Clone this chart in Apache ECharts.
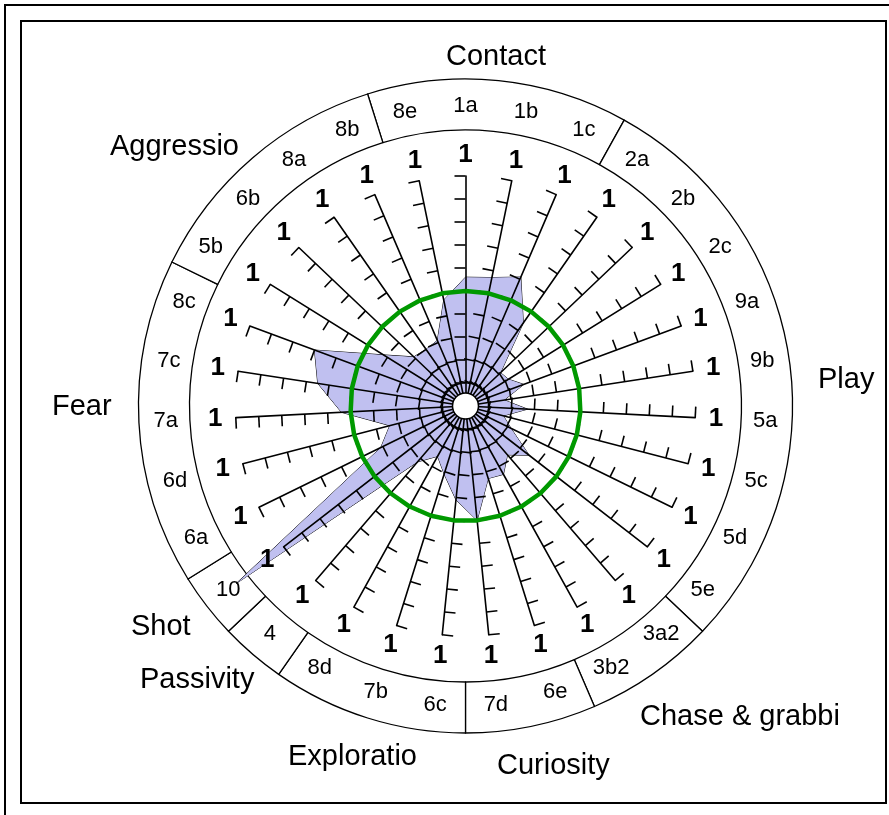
<!DOCTYPE html>
<html><head><meta charset="utf-8">
<script src="https://cdn.jsdelivr.net/npm/echarts@6/dist/echarts.min.js"></script>
<style>html,body{margin:0;padding:0;background:#fff}#c{width:889px;height:815px}</style>
</head><body><div id="c"></div>
<script>
// ---- data (clockwise from top) ----
const categories = ['1a','1b','1c','2a','2b','2c','9a','9b','5a','5c','5d','5e','3a2','3b2','6e','7d','6c','7b','8d','4','10','6a','6d','7a','7c','8c','5b','6b','8a','8b','8e'];
const values     = [0.56,0.57,0.61,0.44,0.21,0.22,0.27,0.17,0.27,0.17,0.22,0.35,0.28,0.34,0.33,0.50,0.41,0.31,0.25,0.32,1.26,0.41,0.34,0.54,0.65,0.70,0.42,0.31,0.30,0.31,0.47];
const referenceValues = [0.5,0.5,0.5,0.5,0.5,0.5,0.5,0.5,0.5,0.5,0.5,0.5,0.5,0.5,0.5,0.5,0.5,0.5,0.5,0.5,0.5,0.5,0.5,0.5,0.5,0.5,0.5,0.5,0.5,0.5,0.5];
const groupNames = ['Contact','Play','Chase & grabbing','Curiosity','Exploration','Passivity','Shot','Fear','Aggression'];
const groupSizes = [4,9,2,2,3,1,1,5,4];
const axisMin = 0, axisMax = 1, axisEndLabel = '1';

// ---- layout ----
const N = categories.length;
const CX = 465.5, CY = 406, R = 230;
const FONT = '"Liberation Sans", Arial, sans-serif';

// radar indicators run counter-clockwise in ECharts -> reorder
const ccwOrder = [0];
for (let k = N - 1; k >= 1; k--) ccwOrder.push(k);
const indicator = ccwOrder.map(i => ({ name: categories[i], min: axisMin, max: axisMax }));
const seriesValues = ccwOrder.map(i => values[i]);
const refValues = ccwOrder.map(i => referenceValues[i]);

const groupLabelPos = [
  { x: 496, y: 57, align: 'center' },
  { x: 818, y: 380, align: 'left' },
  { x: 640, y: 717, align: 'left', width: 218 },
  { x: 497, y: 766, align: 'left' },
  { x: 288, y: 757, align: 'left', width: 141 },
  { x: 140, y: 680, align: 'left' },
  { x: 131, y: 627, align: 'left' },
  { x: 52,  y: 407, align: 'left' },
  { x: 110, y: 147, align: 'left', width: 141 }
];

const chart = echarts.init(document.getElementById('c'), null, { renderer: 'canvas' });

const graphic = [
  { type: 'rect', z: 100, silent: true, shape: { x: 5, y: 5, width: 1000, height: 1000 }, style: { fill: 'none', stroke: '#000', lineWidth: 2 } },
  { type: 'rect', z: 100, silent: true, shape: { x: 21, y: 21, width: 865, height: 782 }, style: { fill: 'none', stroke: '#000', lineWidth: 2 } },
  { type: 'circle', z: 100, silent: true, shape: { cx: CX, cy: CY, r: 13 }, style: { fill: '#fff', stroke: '#000', lineWidth: 1.5 } }
];
groupNames.forEach((name, i) => {
  const p = groupLabelPos[i];
  const st = { text: name, x: 0, y: 0, fill: '#000', font: '29px ' + FONT, align: p.align, verticalAlign: 'middle' };
  if (p.width) { st.width = p.width; st.overflow = 'truncate'; st.ellipsis = ''; }
  graphic.push({ type: 'text', z: 100, silent: true, x: p.x, y: p.y, style: st });
});

const option = {
  backgroundColor: '#fff',
  animation: false,
  radar: {
    center: [CX, CY], radius: R, startAngle: 90, splitNumber: 10, z: 3,
    indicator: indicator,
    axisName: { show: false },
    splitLine: { show: false },
    splitArea: { show: false },
    axisLine: { lineStyle: { color: '#000', width: 1.6 } },
    axisTick: { show: true, length: 11, lineStyle: { color: '#000', width: 1.6 } },
    axisLabel: { show: false }
  },
  polar: { center: [CX, CY], radius: R },
  angleAxis: { type: 'value', min: 0, max: N, startAngle: 90, clockwise: true, show: false },
  radiusAxis: { type: 'value', min: axisMin, max: axisMax, show: false },
  series: [
    {
      type: 'pie', center: [CX, CY], radius: [276, 327], z: 0,
      startAngle: 90 + 1.5 * 360 / N, clockwise: true, silent: true,
      label: { show: false }, labelLine: { show: false },
      itemStyle: { color: '#fff', borderColor: '#000', borderWidth: 1.3 },
      data: groupNames.map((n, i) => ({ name: n, value: groupSizes[i] }))
    },
    {
      type: 'radar', radarIndex: 0, z: 1, symbol: 'none', silent: true,
      lineStyle: { color: '#000', width: 1 },
      areaStyle: { color: '#C0C0F0', opacity: 1 },
      data: [{ name: 'values', value: seriesValues }]
    },
    {
      type: 'radar', radarIndex: 0, z: 5, symbol: 'none', silent: true,
      lineStyle: { color: '#009900', width: 4.5 },
      data: [{ name: 'reference', value: refValues }]
    },
    {
      type: 'scatter', coordinateSystem: 'polar', clip: false, symbolSize: 0, z: 6, silent: true,
      itemStyle: { opacity: 1 },
      label: { show: true, position: 'inside', formatter: '{b}', color: '#000', opacity: 1, fontFamily: FONT, fontSize: 26, fontWeight: 'bold' },
      data: categories.map((c, i) => ({ name: axisEndLabel, value: [1.09 * axisMax, i] }))
    },
    {
      type: 'scatter', coordinateSystem: 'polar', clip: false, symbolSize: 0, z: 6, silent: true,
      itemStyle: { opacity: 1 },
      label: { show: true, position: 'inside', formatter: '{b}', color: '#000', opacity: 1, fontFamily: FONT, fontSize: 22 },
      data: categories.map((c, i) => ({ name: c, value: [1.305 * axisMax, i] }))
    }
  ],
  graphic: graphic
};
chart.setOption(option);
</script></body></html>
